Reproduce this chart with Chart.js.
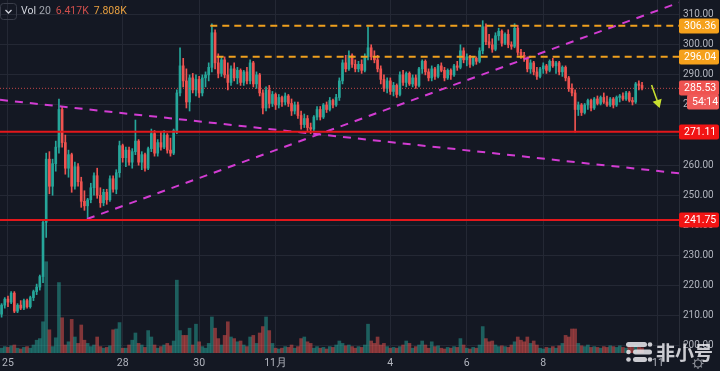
<!DOCTYPE html>
<html><head><meta charset="utf-8">
<script src="https://cdn.jsdelivr.net/npm/chart.js@4/dist/chart.umd.min.js"></script>
<style>html,body{margin:0;padding:0;background:#141823;}canvas{display:block}</style>
</head><body>
<canvas id="c" width="720" height="371"></canvas>
<script>
// ---- data (2-hour candles, index 0 = Oct 25 00:00) ----
const FIRST_INDEX = -2;
const opens = [
210.5,213.5,215.5,214.5,217.5,211.5,213.5,212.5,215,213,
216,218,219.5,223,241,262,253,260.5,266,278.5,
267.5,259,263.5,253,259.5,254.5,248,246.5,248.5,252.5,
256.5,250,247.5,251,248.5,255.5,252,257.5,266.5,262.5,
265,261,264.5,268,261,263.5,259,265.5,270.5,264,
267.5,266,270,265,264,271.5,284,293,288,281,
289,285,288.5,284,289,290,292.5,304,294,290.5,
295,290,287.5,292,289,291.5,287.5,291,288,294,
287,290,284,279,285,280.5,283.5,280,282.5,281,
283,280.5,278,280,276.5,273.5,275.5,272.5,272,276,
278.5,276,280,278.5,281.5,280,282.5,288,294,292,
296.5,293.5,292,293.5,291.5,296,299,296,295,292,
288.5,285.5,288,284.5,286.5,283.5,290,287.5,290.5,287,
289,286.5,292,294.5,291,289,292,289.5,293,291.5,
289,291.5,290,293,292.5,298,295,296,293.5,295.5,
294.5,298,306,301,300,298.5,303,304.5,300.5,303.5,
300,299.5,305.5,297.5,296.5,295.5,292,294,291,289.5,
292,293,291.5,294.5,293,294,291,292.5,289,285.5,
284,278.5,280,277.5,280,281.5,279,282,280.5,282.5,
281,280,282,280,282.5,283,282,284,281.5,281,
287,286.5];
const highs = [
214,216,216.5,218,218,214,215,215.5,215.5,216.5,
218.5,220.5,223.5,242,264,264.5,262,268,282,279.5,
270,265,264,261,260.5,256,251.5,249,254,257.5,
259,252.5,252,252,256.5,256.5,258.5,268,267,266,
266,265.5,275,268.5,264.5,264,266,272,271.5,268.5,
271,271.5,270.5,269,272,285,299,295.5,292,290,
290.5,290,289.5,290,291,294,307,305,297,296,
296,294,293,294,292.5,292,291.5,292.5,295,294.5,
291,290.5,285,286,286.5,284.5,284,283.5,283,284,
283.5,282,281,281,278,277,276.5,274,276.5,279.5,
279.5,280.5,281,282.5,282,283.5,289,295,296.5,298,
297,295,294.5,295,297,306,300,298,296.5,293,
290,289,289,287.5,287,291,291.5,291,291,290,
290,292.5,295,295,292,293,292.5,293.5,294,292.5,
292,292,293.5,294.5,300,299,297,296.5,296,296,
299,308,307,303.5,302,304,305.5,305,304,305,
301,307,306.5,298.5,297.5,296,295,294.5,292.5,292.5,
294,293.5,295,295.5,294.5,294.5,293,293,289.5,287,
285,281,280.5,280.5,282,282,282.5,283,283,284,
283,282.5,282.5,283,283.5,284,284.5,284.5,282.5,287.5,
288,287.5];
const lows = [
209.5,212.5,213,214,211,211,212,212,212.5,212.5,
215,217,218.5,221,236,250.5,250,258,264,266,
257,256,251,252,253,246,245,242.4,247.5,250,
249,246,246.5,247,248,251,250.5,256,261,259.5,
260,259,263.5,260,258.5,258,258.5,264.5,263,263,
265,265.5,264,263,263.5,270.5,283,286,279,278,
284,283,282.5,283,286,288,291,292,289,289.5,
289,285,286.5,288,287,286.5,286.5,287,287,286,
285.5,283,277,278,279,279.5,278.5,279,279.5,280,
279.5,276.5,277,275.5,272,272.5,271.5,270.5,271.5,275,
275,275.5,277.5,278,279,279.5,281.5,287,291,291.5,
292.5,291,291,290.5,291,295,295,294,291,287,
284.5,284,283.5,283,282.5,283,286.5,286,286.5,286,
285.5,286,290.5,290,288,288,288.5,289,291,288,
288.5,288.5,289.5,291.5,292,294,293,292.5,293,293.5,
294,297,300,299,297.5,298,301.5,299.5,300,299,
298.5,299,296.5,295.5,294.5,291,290.5,290,288.5,289,
290.5,290.5,291,292.5,290.5,290,289.5,288,284.5,283,
271,276.5,276.5,277,278.5,278,278.5,280,280,280.5,
279.5,279.5,279,279.5,281,281.5,281.5,281,280,280.5,
285,285];
const closes = [
213.5,215.5,214.5,217.5,211.5,213.5,212.5,215,213,216,
218,219.5,223,241,262,253,260.5,266,278.5,267.5,
259,263.5,253,259.5,254.5,248,246.5,248.5,252.5,256.5,
250,247.5,251,248.5,255.5,252,257.5,266.5,262.5,265,
261,264.5,268,261,263.5,259,265.5,270.5,264,267.5,
266,270,265,264,271.5,284,293,288,281,289,
285,288.5,284,289,290,292.5,304,294,290.5,295,
290,287.5,292,289,291.5,287.5,291,288,294,287,
290,284,279,285,280.5,283.5,280,282.5,281,283,
280.5,278,280,276.5,273.5,275.5,272.5,272,276,278.5,
276,280,278.5,281.5,280,282.5,288,294,292,296.5,
293.5,292,293.5,291.5,296,299,296,295,292,288.5,
285.5,288,284.5,286.5,283.5,290,287.5,290.5,287,289,
286.5,292,294.5,291,289,292,289.5,293,291.5,289,
291.5,290,293,292.5,298,295,296,293.5,295.5,294.5,
298,306,301,300,298.5,303,304.5,300.5,303.5,300,
299.5,305.5,297.5,296.5,295.5,292,294,291,289.5,292,
293,291.5,294.5,293,294,291,292.5,289,285.5,284,
278.5,280,277.5,280,281.5,279,282,280.5,282.5,281,
280,282,280,282.5,283,282,284,281.5,281,287,
286.5,285.53];
const volumes = [ // thousands
6,8,7,9,10,6,5,7,8,6,
10,16,18,39,114,29,8,19,88,44,
10,14,42,20,12,35,16,12,8,10,
20,8,6,7,9,29,30,38,6,6,
10,16,25,12,10,7,28,20,10,6,
8,10,12,9,15,91,28,22,22,31,
10,36,14,8,6,12,45,31,18,10,
22,39,20,18,14,15,10,8,20,22,
12,25,33,45,28,12,6,5,6,8,
7,10,6,8,18,20,14,12,6,8,
6,7,5,8,7,10,15,12,9,10,
8,6,8,7,10,36,15,12,20,10,
12,8,6,7,6,8,10,15,12,6,
8,10,15,10,6,14,8,9,6,5,
7,6,8,7,18,10,6,5,7,6,
10,33,18,14,15,10,8,9,8,7,
10,14,20,16,14,20,12,15,10,6,
5,7,6,8,6,9,12,22,20,30,
30,12,9,8,10,7,8,7,6,8,
7,9,8,7,9,7,6,8,7,9,
7,6.417];
const dayTickIndex  = [0, 36, 60, 84, 120, 144, 168, 204];
const dayTickLabels = ['25','28','30','11月','4','6','8','11'];
const priceTicks = [200,210,220,230,240,250,260,270,280,290,300,310];
const orangeLevels = [306.36, 296.04];
const orangeStart  = [63.5, 65.5];
const redLevels = [271.11, 241.75];
const lastPrice = 285.53;
const countdown = '54:14';
const trendDown = [{x:-2.5, y:281.7}, {x:210.6, y:257.3}];
const trendUp   = [{x:24.8, y:242.1}, {x:210.6, y:314.0}];
const arrowPts  = [{x:202.0, y:286.6}, {x:204.0, y:280.7}];
const volLegend = ['Vol', '20', '6.417K', '7.808K'];

// ---- chart ----
const X_MIN = -2.5, X_MAX = 210.6, Y_MIN = 197.6, Y_MAX = 314.88, V_MAX = 441;
const GREEN = '#26a69a', RED = '#ef5350';
const isUp = closes.map((c, i) => c >= opens[i]);
const xs = closes.map((c, i) => FIRST_INDEX + i);
const FONT = 'Roboto, "Liberation Sans", sans-serif';

function rr(ctx, x, y, w, h, r) {
  ctx.beginPath();
  ctx.moveTo(x + r, y); ctx.lineTo(x + w - r, y); ctx.quadraticCurveTo(x + w, y, x + w, y + r);
  ctx.lineTo(x + w, y + h - r); ctx.quadraticCurveTo(x + w, y + h, x + w - r, y + h);
  ctx.lineTo(x + r, y + h); ctx.quadraticCurveTo(x, y + h, x, y + h - r);
  ctx.lineTo(x, y + r); ctx.quadraticCurveTo(x, y, x + r, y); ctx.closePath();
}

const bgPlugin = {
  id: 'bg',
  beforeDraw(chart) {
    const c = chart.ctx; c.save(); c.fillStyle = '#141823'; c.fillRect(0, 0, chart.width, chart.height); c.restore();
  }
};

const overlay = {
  id: 'overlay',
  afterDraw(chart) {
    const c = chart.ctx, y = chart.scales.y, ax = chart.chartArea.right;
    c.save();
    c.textBaseline = 'middle';
    function tag(val, text, bg, fg, x0, dy) {
      const py = Math.round(y.getPixelForValue(val)) + (dy || 0);
      c.fillStyle = bg; rr(c, x0, py - 7.5, 719 - x0, 15, 2); c.fill();
      c.fillStyle = fg; c.font = '10.5px ' + FONT; c.fillText(text, x0 + 5, py + 0.5);
    }
    tag(orangeLevels[0], orangeLevels[0].toFixed(2), '#f5a11c', '#ffffff', ax);
    tag(orangeLevels[1], orangeLevels[1].toFixed(2), '#f5a11c', '#ffffff', ax);
    tag(lastPrice, lastPrice.toFixed(2), '#ef5350', '#ffffff', ax);
    tag(lastPrice, countdown, '#ef5a58', '#ffffff', ax + 8, 14);
    tag(redLevels[0], redLevels[0].toFixed(2), '#f21414', '#ffffff', ax);
    tag(redLevels[1], redLevels[1].toFixed(2), '#f21414', '#ffffff', ax);

    // legend top-left
    c.strokeStyle = '#3a3e4a'; c.lineWidth = 1; rr(c, 0.5, 3.5, 16, 16, 3); c.stroke();
    c.strokeStyle = '#d1d4dc'; c.lineWidth = 1.3; c.beginPath(); c.moveTo(5.5, 10); c.lineTo(8.5, 13); c.lineTo(11.5, 10); c.stroke();
    c.font = '10.5px ' + FONT;
    const legColors = ['#d1d4dc', '#a3a6af', '#cf4f4c', '#e8a040'];
    let lx = 21;
    volLegend.forEach((t, k) => {
      c.fillStyle = legColors[k]; c.fillText(t, lx, 11.5);
      lx += c.measureText(t).width + (k === 0 ? 3 : 5);
    });

    // watermark
    c.fillStyle = 'rgba(235,235,240,0.85)';
    rr(c, 626, 342, 21, 5, 2.5); c.fill();
    c.beginPath(); c.arc(650, 344.5, 2.3, 0, Math.PI * 2); c.fill();
    c.beginPath(); c.arc(628.5, 352, 2.3, 0, Math.PI * 2); c.fill();
    rr(c, 633, 349.5, 19, 5, 2.5); c.fill();
    c.beginPath(); c.arc(628.5, 359.5, 2.3, 0, Math.PI * 2); c.fill();
    rr(c, 633, 357, 14, 5, 2.5); c.fill();
    c.beginPath(); c.arc(650, 359.5, 2.3, 0, Math.PI * 2); c.fill();
    c.font = 'bold 19px "Noto Sans CJK SC"';
    c.fillText('非小号', 656, 353);

    // settings gear
    c.strokeStyle = '#8a8d96'; c.lineWidth = 1.2;
    c.beginPath(); c.arc(698, 363.5, 3.5, 0, Math.PI * 2); c.stroke();
    for (let k = 0; k < 8; k++) {
      const a = k * Math.PI / 4;
      c.beginPath(); c.moveTo(698 + Math.cos(a) * 3.5, 363.5 + Math.sin(a) * 3.5);
      c.lineTo(698 + Math.cos(a) * 5.5, 363.5 + Math.sin(a) * 5.5); c.stroke();
    }
    c.restore();
  }
};

function hline(val, x0, color, width, dash) {
  return { type: 'line', yAxisID: 'y', data: [{x: x0, y: val}, {x: X_MAX, y: val}],
    borderColor: color, borderWidth: width, borderDash: dash || [], pointRadius: 0, order: 1 };
}

const datasets = [
  { label: 'volume', yAxisID: 'yv', data: xs.map((x, i) => ({x, y: volumes[i]})),
    backgroundColor: isUp.map(u => u ? 'rgba(38,166,154,0.5)' : 'rgba(239,83,80,0.5)'),
    barThickness: 3, grouped: false, order: 10 },
  { label: 'wick', yAxisID: 'y', data: xs.map((x, i) => ({x, y: [lows[i], highs[i]]})),
    backgroundColor: isUp.map(u => u ? GREEN : RED), barThickness: 1, grouped: false, order: 5 },
  { label: 'body', yAxisID: 'y', data: xs.map((x, i) => ({x, y: [opens[i], closes[i]]})),
    backgroundColor: isUp.map(u => u ? GREEN : RED), barThickness: 2, minBarLength: 1, grouped: false, order: 4 },
  hline(lastPrice, X_MIN, 'rgba(239,83,80,0.8)', 1, [1, 2]),
  hline(redLevels[0], X_MIN, '#e3171b', 2),
  hline(redLevels[1], X_MIN, '#e3171b', 2),
  hline(orangeLevels[0], orangeStart[0], '#f0a01e', 2, [7, 5]),
  hline(orangeLevels[1], orangeStart[1], '#f0a01e', 2, [7, 5]),
  { type: 'line', yAxisID: 'y', data: trendDown, borderColor: '#d23cd2', borderWidth: 2, borderDash: [8, 7], pointRadius: 0, order: 1 },
  { type: 'line', yAxisID: 'y', data: trendUp, borderColor: '#d23cd2', borderWidth: 2, borderDash: [8, 7], pointRadius: 0, order: 1 },
  { type: 'line', yAxisID: 'y', data: arrowPts, borderColor: '#c8e030', backgroundColor: '#c8e030', borderWidth: 1.5,
    pointRadius: [0, 4], pointStyle: 'triangle', rotation: 162, order: 0 }
];

new Chart(document.getElementById('c'), {
  type: 'bar',
  data: { datasets },
  options: {
    responsive: false, animation: false, devicePixelRatio: 1,
    layout: { padding: 0, autoPadding: false },
    plugins: { legend: { display: false }, tooltip: { enabled: false } },
    scales: {
      x: { type: 'linear', min: X_MIN, max: X_MAX, offset: false,
        grid: { offset: false, color: '#242834', drawTicks: false },
        border: { display: false },
        ticks: { autoSkip: false, maxRotation: 0, color: '#b2b5be', padding: 4, font: { size: 10.5, family: FONT },
          callback: (v) => { const k = dayTickIndex.indexOf(v); return k >= 0 ? dayTickLabels[k] : ''; } },
        afterBuildTicks: (s) => { s.ticks = dayTickIndex.map(v => ({value: v})); },
        afterFit: (s) => { s.height = 18; s.paddingLeft = 0; s.paddingRight = 0; } },
      y: { type: 'linear', position: 'right', min: Y_MIN, max: Y_MAX,
        grid: { color: '#242834', drawTicks: false },
        border: { color: '#2a2e39' },
        ticks: { color: '#b2b5be', padding: 4, font: { size: 10, family: FONT }, callback: v => Number(v).toFixed(2) },
        afterBuildTicks: (s) => { s.ticks = priceTicks.map(v => ({value: v})); },
        afterFit: (s) => { s.width = 41; s.paddingTop = 0; s.paddingBottom = 0; } },
      yv: { type: 'linear', display: false, min: 0, max: V_MAX }
    }
  },
  plugins: [bgPlugin, overlay]
});
</script>
</body></html>
